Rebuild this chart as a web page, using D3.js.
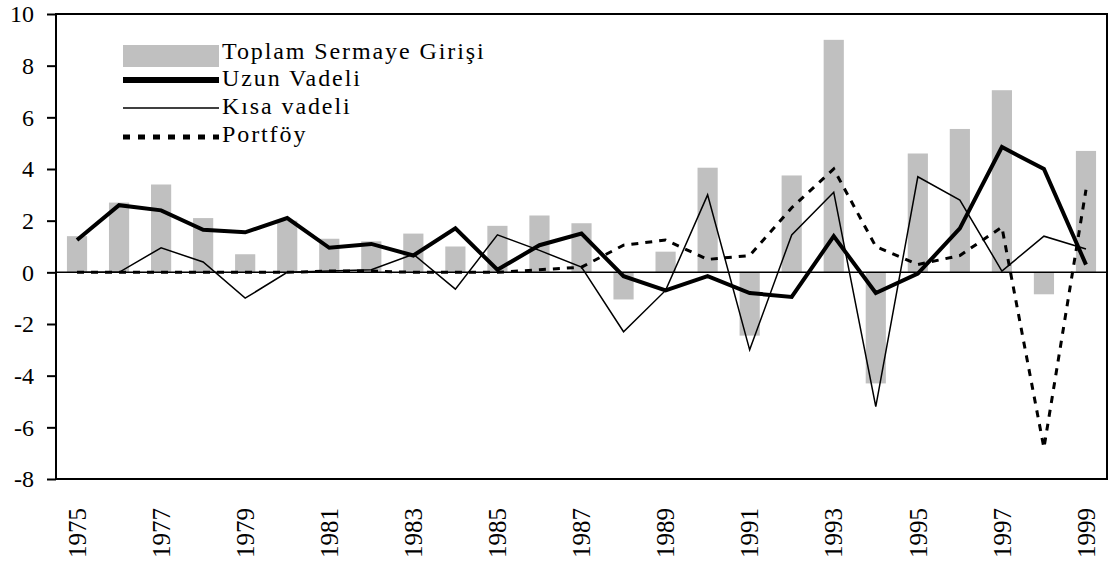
<!DOCTYPE html>
<html>
<head>
<meta charset="utf-8">
<script src="https://cdn.jsdelivr.net/npm/d3@7"></script>
<style>
  body { margin: 0; background: #fff; }
</style>
</head>
<body>
<svg id="chart" width="1113" height="569"></svg>
<script>
var years = [1975, 1976, 1977, 1978, 1979, 1980, 1981, 1982, 1983, 1984, 1985, 1986, 1987,
             1988, 1989, 1990, 1991, 1992, 1993, 1994, 1995, 1996, 1997, 1998, 1999];

// Toplam Sermaye Girisi (bars)
var toplam = [1.4, 2.7, 3.4, 2.1, 0.7, 2.0, 1.3, 1.2, 1.5, 1.0, 1.8, 2.2, 1.9,
              -1.05, 0.8, 4.05, -2.45, 3.75, 9.0, -4.3, 4.6, 5.55, 7.05, -0.85, 4.7];
// Uzun Vadeli (thick line)
var uzun = [1.25, 2.6, 2.4, 1.65, 1.55, 2.1, 0.95, 1.1, 0.65, 1.7, 0.1, 1.05, 1.5,
            -0.15, -0.7, -0.15, -0.8, -0.95, 1.4, -0.8, -0.05, 1.7, 4.85, 4.0, 0.3];
// Kisa vadeli (thin line)
var kisa = [0, 0, 0.95, 0.4, -1.0, 0, 0.05, 0.1, 0.7, -0.65, 1.45, 0.85, 0.2,
            -2.3, -0.7, 3.0, -3.0, 1.45, 3.1, -5.2, 3.7, 2.8, 0.05, 1.4, 0.9];
// Portfoy (dotted line)
var portfoy = [0, 0, 0, 0, 0, 0, 0.05, 0.05, 0, 0, 0, 0.1, 0.2,
               1.05, 1.25, 0.5, 0.65, 2.5, 4.0, 1.0, 0.3, 0.65, 1.75, -6.8, 3.2];

var yTicks = [-8, -6, -4, -2, 0, 2, 4, 6, 8, 10];
var xLabels = [1975, 1977, 1979, 1981, 1983, 1985, 1987, 1989, 1991, 1993, 1995, 1997, 1999];

var legendNames = ["Toplam Sermaye Girişi", "Uzun Vadeli", "Kısa vadeli", "Portföy"];

var serif = "Liberation Serif";

var svg = d3.select("#chart");

var plotLeft = 56, plotRight = 1107, plotTop = 14, plotBottom = 479;

var x = d3.scaleBand().domain(years).range([plotLeft, plotRight]).paddingInner(0.52).paddingOuter(0.26);
var xc = function(yr) { return x(yr) + x.bandwidth() / 2; };
var y = d3.scaleLinear().domain([-8, 10]).range([plotBottom, plotTop]);

// bars
svg.append("g").selectAll("rect")
  .data(years)
  .join("rect")
  .attr("x", function(d) { return x(d); })
  .attr("width", x.bandwidth())
  .attr("y", function(d, i) { return y(Math.max(0, toplam[i])); })
  .attr("height", function(d, i) { return Math.abs(y(toplam[i]) - y(0)); })
  .attr("fill", "#c0c0c0");

// zero line
svg.append("line")
  .attr("x1", plotLeft).attr("x2", plotRight)
  .attr("y1", y(0)).attr("y2", y(0))
  .attr("stroke", "#000").attr("stroke-width", 1.5);

function drawLine(vals, width, dash) {
  var line = d3.line()
    .x(function(d, i) { return xc(years[i]); })
    .y(function(d) { return y(d); });
  var p = svg.append("path")
    .attr("d", line(vals))
    .attr("fill", "none")
    .attr("stroke", "#000")
    .attr("stroke-width", width)
    .attr("stroke-linejoin", "miter");
  if (dash) p.attr("stroke-dasharray", dash);
}

drawLine(kisa, 1.5);
drawLine(portfoy, 3, "7,7");
drawLine(uzun, 4);

// frame
svg.append("rect")
  .attr("x", plotLeft).attr("y", plotTop)
  .attr("width", plotRight - plotLeft).attr("height", plotBottom - plotTop)
  .attr("fill", "none").attr("stroke", "#000").attr("stroke-width", 2);

// y axis
var yAxis = d3.axisLeft(y).tickValues(yTicks).tickSize(9).tickPadding(13)
  .tickFormat(function(d) { return String(d); });
var gy = svg.append("g").attr("transform", "translate(" + plotLeft + ",0)").call(yAxis);
gy.attr("font-family", serif).attr("font-size", 24);
gy.select(".domain").remove();
gy.selectAll(".tick line").attr("stroke", "#000").attr("stroke-width", 2);
gy.selectAll(".tick text").attr("fill", "#000");

// x labels
var xAxis = d3.axisBottom(x).tickValues(xLabels).tickSize(0).tickPadding(0);
var gx = svg.append("g").attr("transform", "translate(0," + plotBottom + ")").call(xAxis);
gx.attr("font-family", serif).attr("font-size", 25);
gx.select(".domain").remove();
gx.selectAll(".tick text")
  .attr("fill", "#000")
  .attr("transform", "rotate(-90)")
  .attr("text-anchor", "end")
  .attr("x", -29)
  .attr("y", 0)
  .attr("dy", "0.35em");

// legend
var lg = svg.append("g");
var lx1 = 123, lx2 = 219;
lg.append("rect").attr("x", lx1).attr("y", 45).attr("width", lx2 - lx1).attr("height", 22).attr("fill", "#c0c0c0");
lg.append("line").attr("x1", lx1).attr("x2", lx2).attr("y1", 80).attr("y2", 80)
  .attr("stroke", "#000").attr("stroke-width", 6);
lg.append("line").attr("x1", lx1).attr("x2", lx2).attr("y1", 108).attr("y2", 108)
  .attr("stroke", "#000").attr("stroke-width", 1.5);
lg.append("line").attr("x1", lx1).attr("x2", lx2).attr("y1", 137).attr("y2", 137)
  .attr("stroke", "#000").attr("stroke-width", 5).attr("stroke-dasharray", "7,8");

var baselines = [59, 86, 114, 142];
lg.selectAll("text.leg")
  .data(legendNames)
  .join("text")
  .attr("class", "leg")
  .attr("x", 222)
  .attr("y", function(d, i) { return baselines[i]; })
  .attr("font-family", serif)
  .attr("font-size", 24)
  .attr("fill", "#000")
  .style("letter-spacing", "1.9px")
  .text(function(d) { return d; });
</script>
</body>
</html>
